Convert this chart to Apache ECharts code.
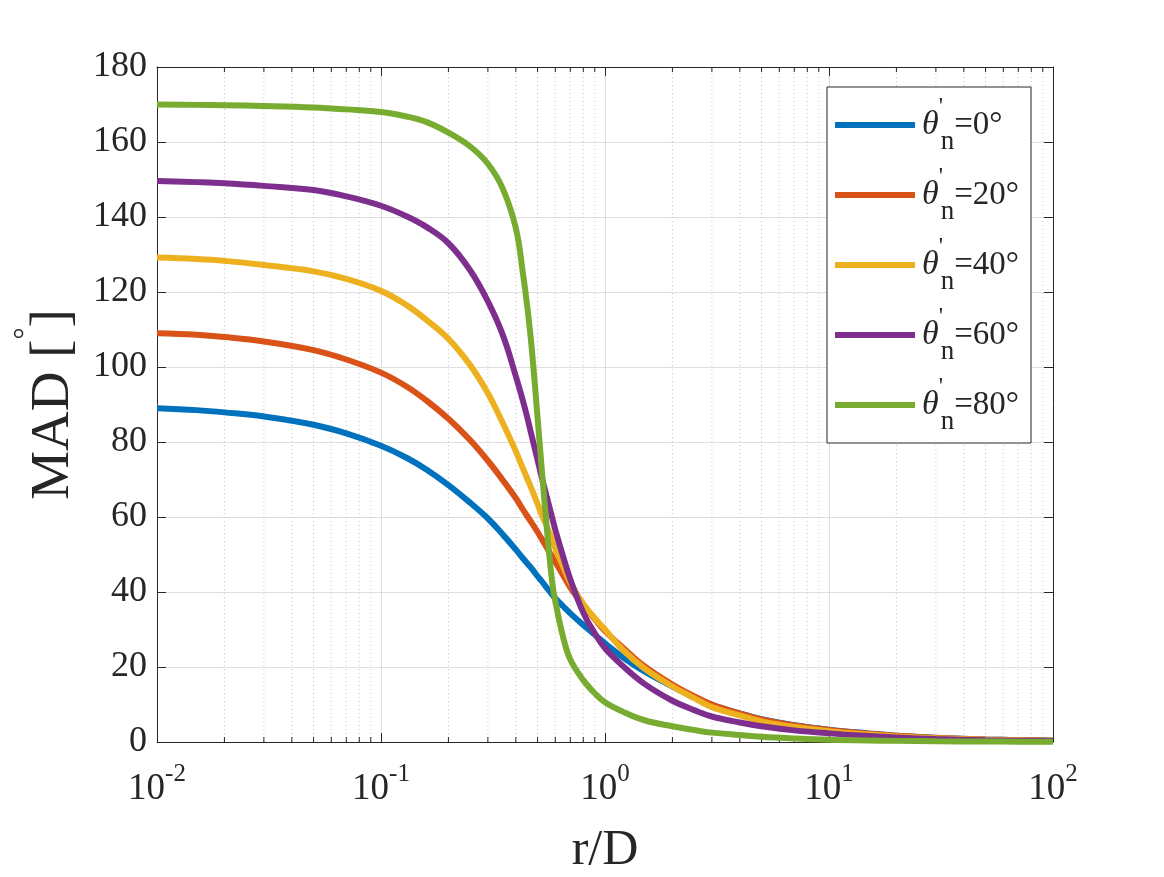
<!DOCTYPE html>
<html>
<head>
<meta charset="utf-8">
<script src="https://cdn.jsdelivr.net/npm/echarts@6/dist/echarts.min.js"></script>
<style>
html,body{margin:0;padding:0;background:#fff;}
#main{width:1164px;height:877px;}
</style>
</head>
<body>
<div id="main"></div>
<script>
// r/D sample points (log axis)
var rD = [0.01,0.015,0.02,0.03,0.05,0.07,0.1,0.13,0.16,0.2,0.25,0.3,0.35,0.4,0.43,0.45,0.47,0.5,0.52,0.55,0.58,0.6,0.65,0.7,0.8,0.9,1,1.2,1.5,2,2.5,3,4,5,7,10,15,20,30,50,70,100];
// MAD values per theta'_n
var mad0  = [89,88.5,87.9,86.8,84.6,82.3,79,75.8,72.6,68.5,63.8,59.6,55.3,51.3,49,47.6,46.3,44.2,43,41.1,39.4,38.3,36.2,34.3,31.2,28.6,26.3,22.6,18.8,14.8,12,9.9,7.6,6.1,4.5,3.3,2.3,1.7,1.15,0.7,0.5,0.35];
var mad20 = [109,108.6,108,106.8,104.5,102,98.5,94.8,91,86.2,80.5,75,69.8,65,62,60.2,58.5,56,54.3,51.8,49.5,48,44.5,41.2,36.5,32.8,29.6,25.2,20.2,15.3,12.2,10,7.6,6,4.4,3.2,2.2,1.7,1.1,0.7,0.5,0.35];
var mad40 = [129.2,128.8,128.3,127.2,125.5,123.5,120.3,116.5,112.5,107.5,100.5,93,85,77.5,73,70.2,67.5,63.5,60.8,57.5,54.2,51.6,46.8,42.5,36.8,33,30,24.6,19.6,14.8,11.7,9.3,7.1,5.5,4,2.9,2,1.5,1,0.6,0.45,0.3];
var mad60 = [149.6,149.3,149,148.3,147.2,145.5,143,140.2,137.3,133,125.8,117.5,108.5,97.5,91,86.5,81.8,75.2,71,65.3,60,56.6,49.5,43.4,34.5,29,25,20.3,15.5,11,8.5,6.8,5.2,4.2,3.1,2.3,1.6,1.2,0.8,0.5,0.35,0.25];
var mad80 = [170,169.9,169.8,169.6,169.2,168.7,168,166.8,165.3,162.5,158.8,154.2,147.5,137,125,116,105.5,86.5,74,57,43,37.5,28,22,16.5,13,10.6,8.1,5.8,4.2,3.2,2.5,1.85,1.4,0.95,0.6,0.42,0.3,0.2,0.12,0.09,0.06];

var seriesNames = ['0', '20', '40', '60', '80'];
var seriesData = [mad0, mad20, mad40, mad60, mad80];
var colors = ['#0072BD', '#D95319', '#EDB120', '#7E2F8E', '#77AC30'];

// minor log grid positions (2..9 per decade)
var minorVals = [];
for (var k = -2; k < 2; k++) {
    for (var m = 2; m <= 9; m++) {
        minorVals.push(+(m * Math.pow(10, k)).toPrecision(3));
    }
}

var FONT = '"Liberation Serif", "Times New Roman", serif';
var TXT = '#262626';

var series = [];
series.push({
    type: 'custom',
    name: 'minor',
    silent: true,
    z: 1,
    data: minorVals.map(function (v) { return [v]; }),
    encode: { x: 0 },
    renderItem: function (params, api) {
        var v = api.value(0);
        var b = api.coord([v, 0]);
        var t = api.coord([v, 180]);
        return {
            type: 'group',
            children: [
                { type: 'line', shape: { x1: b[0], y1: b[1], x2: t[0], y2: t[1] },
                  style: { stroke: '#c4c4c4', lineWidth: 1, lineDash: [1, 3] } },
                { type: 'line', shape: { x1: b[0], y1: b[1], x2: b[0], y2: b[1] - 5 },
                  style: { stroke: TXT, lineWidth: 1 } },
                { type: 'line', shape: { x1: t[0], y1: t[1], x2: t[0], y2: t[1] + 5 },
                  style: { stroke: TXT, lineWidth: 1 } }
            ]
        };
    }
});
for (var i = 0; i < seriesNames.length; i++) {
    var vals = seriesData[i];
    series.push({
        name: seriesNames[i],
        type: 'line',
        data: rD.map(function (x, j) { return [x, vals[j]]; }),
        showSymbol: false,
        symbol: 'none',
        smooth: 0.4,
        z: 5,
        lineStyle: { width: 6, color: colors[i], cap: 'butt' },
        itemStyle: { color: colors[i] }
    });
}

var myChart = echarts.init(document.getElementById('main'));
var option = {
    backgroundColor: '#fff',
    animation: false,
    color: colors,
    grid: { left: 157, right: 111, top: 67, bottom: 135, outerBoundsMode: 'none', containLabel: false },
    legend: {
        data: seriesNames.map(function (n) { return { name: n, icon: 'rect' }; }),
        orient: 'vertical',
        left: 827,
        top: 87,
        padding: [8, 12, 8, 8],
        itemGap: 10,
        itemWidth: 80,
        itemHeight: 6,
        backgroundColor: '#fff',
        borderColor: TXT,
        borderWidth: 1,
        formatter: function (name) {
            return '{th|θ}{pr|\'}{n|n}{eq|=' + name + '°}';
        },
        textStyle: {
            color: TXT,
            fontFamily: FONT,
            fontSize: 32,
            rich: {
                th: { fontFamily: FONT, fontSize: 34, fontStyle: 'italic', color: TXT, lineHeight: 60, padding: [0, 0, 0, 2] },
                pr: { fontFamily: FONT, fontSize: 24, color: TXT, width: 2, lineHeight: 22, verticalAlign: 'top' },
                n: { fontFamily: FONT, fontSize: 27, color: TXT, lineHeight: 26, verticalAlign: 'bottom' },
                eq: { fontFamily: FONT, fontSize: 33, color: TXT, lineHeight: 60 }
            }
        }
    },
    xAxis: [{
        type: 'log',
        logBase: 10,
        min: 0.01,
        max: 100,
        splitNumber: 4,
        name: 'r/D',
        nameLocation: 'middle',
        nameGap: 84,
        nameTextStyle: { fontFamily: FONT, fontSize: 50, color: TXT },
        axisLine: { show: true, onZero: false, lineStyle: { color: TXT, width: 1 } },
        axisTick: { show: true, inside: true, length: 9, lineStyle: { color: TXT } },
        splitLine: { show: true, lineStyle: { color: '#dedede', width: 1 } },
        minorTick: { show: false },
        axisLabel: {
            margin: 20,
            showMinLabel: true,
            showMaxLabel: true,
            hideOverlap: false,
            formatter: function (v) {
                var e = Math.round(Math.log(v) / Math.LN10);
                return '{b|10}{s|' + (e < 0 ? '-' : '') + Math.abs(e) + '}';
            },
            rich: {
                b: { fontFamily: FONT, fontSize: 37, color: TXT, lineHeight: 46, verticalAlign: 'bottom' },
                s: { fontFamily: FONT, fontSize: 25, color: TXT, lineHeight: 24, verticalAlign: 'top' }
            }
        }
    }, {
        type: 'log',
        logBase: 10,
        min: 0.01,
        max: 100,
        splitNumber: 4,
        position: 'top',
        axisLine: { show: true, onZero: false, lineStyle: { color: TXT, width: 1 } },
        axisTick: { show: true, inside: true, length: 9, lineStyle: { color: TXT } },
        axisLabel: { show: false },
        splitLine: { show: false }
    }],
    yAxis: [{
        type: 'value',
        min: 0,
        max: 180,
        interval: 20,
        name: '{a|MAD [}{d|°}{a|]}',
        nameLocation: 'middle',
        nameGap: 76,
        nameTextStyle: {
            rich: {
                a: { fontFamily: FONT, fontSize: 55, color: TXT, lineHeight: 70, verticalAlign: 'bottom' },
                d: { fontFamily: FONT, fontSize: 30, color: TXT, lineHeight: 30, verticalAlign: 'top' }
            }
        },
        axisLine: { show: true, onZero: false, lineStyle: { color: TXT, width: 1 } },
        axisTick: { show: true, inside: true, length: 9, lineStyle: { color: TXT } },
        splitLine: { show: true, lineStyle: { color: '#dedede', width: 1 } },
        axisLabel: { margin: 10, fontFamily: FONT, fontSize: 36, color: TXT }
    }, {
        type: 'value',
        min: 0,
        max: 180,
        interval: 20,
        position: 'right',
        axisLine: { show: true, onZero: false, lineStyle: { color: TXT, width: 1 } },
        axisTick: { show: true, inside: true, length: 9, lineStyle: { color: TXT } },
        axisLabel: { show: false },
        splitLine: { show: false }
    }],
    series: series
};
myChart.setOption(option);
</script>
</body>
</html>
